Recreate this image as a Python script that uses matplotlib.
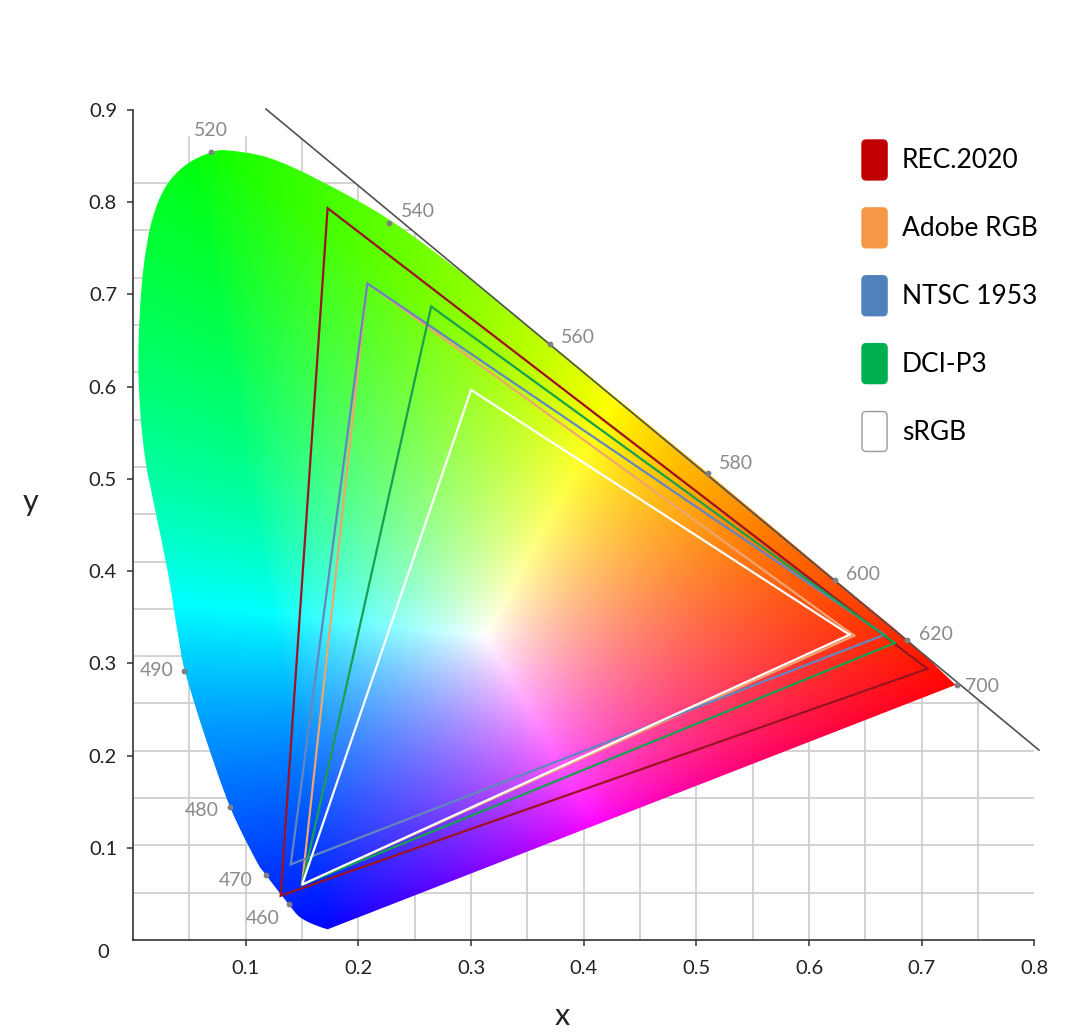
import numpy as np
import matplotlib as mpl
mpl.use('Agg')
import matplotlib.pyplot as plt
from matplotlib.path import Path
from matplotlib.patches import PathPatch, Patch, FancyBboxPatch
from matplotlib.legend_handler import HandlerPatch

plt.rcParams['font.family'] = ['Lato', 'DejaVu Sans']

# spectral locus as drawn in the picture (bottom tip -> blue -> green -> red)
locus_x = [0.1727, 0.160, 0.1476, 0.138, 0.118, 0.109, 0.086, 0.063, 0.046,
           0.040, 0.031, 0.019, 0.011, 0.0065, 0.0047, 0.006, 0.0098, 0.017,
           0.029, 0.047, 0.069, 0.0853, 0.121, 0.165, 0.2276, 0.300, 0.370,
           0.5105, 0.623, 0.687, 0.730]
locus_y = [0.0116, 0.017, 0.0253, 0.039, 0.0705, 0.0868, 0.1446, 0.224, 0.292,
           0.330, 0.398, 0.470, 0.520, 0.571, 0.625, 0.680, 0.734, 0.781,
           0.817, 0.8406, 0.854, 0.856, 0.848, 0.824, 0.781, 0.716, 0.647,
           0.506, 0.391, 0.326, 0.2766]

# wavelength markers
wl_labels = ['460', '470', '480', '490', '520', '540', '560', '580', '600', '620', '700']
wl_x = [0.138, 0.118, 0.086, 0.0453, 0.069, 0.2276, 0.370, 0.5105, 0.623, 0.687, 0.731]
wl_y = [0.039, 0.0705, 0.1446, 0.2918, 0.854, 0.7777, 0.646, 0.506, 0.390, 0.325, 0.2766]

# gamut triangles (R, G, B)
gamut_names = ['REC.2020', 'Adobe RGB', 'NTSC 1953', 'DCI-P3', 'sRGB']
gamut_x = [[0.705, 0.1727, 0.131],
           [0.640, 0.208, 0.150],
           [0.667, 0.208, 0.140],
           [0.676, 0.2646, 0.150],
           [0.636, 0.300, 0.150]]
gamut_y = [[0.294, 0.7936, 0.048],
           [0.330, 0.712, 0.060],
           [0.331, 0.712, 0.082],
           [0.322, 0.687, 0.060],
           [0.331, 0.5965, 0.060]]
line_colors = ['#9c1222', '#eea66e', '#6486bf', '#17a050', '#ffffff']
swatch_colors = ['#c00000', '#f79646', '#4f81bd', '#00b050', '#ffffff']

# tangent line drawn along the red/green edge
diag_x = [0.118, 0.804]
diag_y = [0.901, 0.206]

fig = plt.figure(figsize=(10.86, 10.34), dpi=100)
ax = fig.add_axes([0.1225, 0.0909, 0.830, 0.8027])
ax.set_xlim(0, 0.8)
ax.set_ylim(0, 0.9)

# grid, clipped under the tangent line
slope = (diag_y[1] - diag_y[0]) / (diag_x[1] - diag_x[0])
def diag_at_x(x):
    return diag_y[0] + (x - diag_x[0]) * slope
def diag_at_y(y):
    return diag_x[0] + (y - diag_y[0]) / slope

gx = np.arange(1, 16) * 0.05
gy = np.arange(1, 17) * 0.0513
ax.vlines(gx, 0, np.minimum(0.872, diag_at_x(gx)), color='#d0d0d0', lw=1.3, zorder=0)
ax.hlines(gy, 0, np.minimum(0.8, diag_at_y(gy)), color='#d0d0d0', lw=1.3, zorder=0)

# smooth outline of the horseshoe
pts = np.column_stack([locus_x, locus_y])
verts = [pts[0]]
codes = [Path.MOVETO]
n = len(pts)
for i in range(n - 1):
    p0 = pts[max(i - 1, 0)]
    p1 = pts[i]
    p2 = pts[i + 1]
    p3 = pts[min(i + 2, n - 1)]
    verts += [p1 + (p2 - p0) / 6, p2 - (p3 - p1) / 6, p2]
    codes += [Path.CURVE4] * 3
verts.append(pts[0])
codes.append(Path.LINETO)
verts.append(pts[0])
codes.append(Path.CLOSEPOLY)
outline = PathPatch(Path(verts, codes), facecolor='none', edgecolor='none')
ax.add_patch(outline)

# chromaticity colours: a wide rgb space with primaries at the locus corners
prim = np.array([[0.73, 0.275], [0.05, 0.875], [0.172, 0.01]])
white = np.array([0.3127, 0.329])
def to_xyz(x, y):
    return np.stack([x / y, np.ones_like(x), (1 - x - y) / y], axis=-1)
P = to_xyz(prim[:, 0], prim[:, 1]).T
S = np.linalg.solve(P, to_xyz(white[0], white[1]))
Minv = np.linalg.inv(P * S)

xs = np.linspace(0, 0.8, 800)
ys = np.linspace(0.002, 0.9, 900)
X, Y = np.meshgrid(xs, ys)
rgb = to_xyz(X, Y) @ Minv.T
rgb = np.clip(rgb, 0, None)
rgb = rgb / np.maximum(rgb.max(axis=-1, keepdims=True), 1e-9)
rgb = np.clip(rgb ** 0.8, 0, 1)
im = ax.imshow(rgb, extent=(0, 0.8, 0.002, 0.9), origin='lower',
               aspect='auto', interpolation='bilinear', zorder=1)
im.set_clip_path(outline)

ax.plot(diag_x, diag_y, color='#505050', lw=1.2, zorder=2, clip_on=False)

for gxs, gys, c in zip(gamut_x, gamut_y, line_colors):
    ax.plot(gxs + gxs[:1], gys + gys[:1], color=c, lw=1.6, zorder=3,
            solid_joinstyle='miter')

# wavelength dots and labels
ax.scatter(wl_x, wl_y, s=10, color='#808080', zorder=4, clip_on=False)
offsets = {'460': (-9, -14, 'right'), '470': (-13, -6, 'right'),
           '480': (-11, -4, 'right'), '490': (-10, 0, 'right'),
           '520': (0, 22, 'center'), '540': (11, 11, 'left'),
           '560': (11, 7, 'left'), '580': (11, 10, 'left'),
           '600': (11, 6, 'left'), '620': (12, 6, 'left'),
           '700': (8, -2, 'left')}
for lab, x, y in zip(wl_labels, wl_x, wl_y):
    dx, dy, ha = offsets[lab]
    ax.annotate(lab, (x, y), xytext=(dx * 0.72, dy * 0.72),
                textcoords='offset points', ha=ha, va='center',
                fontsize=14, color='#8a8a8a', zorder=5)

# axes styling
for s in ['top', 'right']:
    ax.spines[s].set_visible(False)
for s in ['left', 'bottom']:
    ax.spines[s].set_color('#333333')
    ax.spines[s].set_linewidth(1.2)
ax.set_xticks(np.arange(1, 9) / 10)
ax.set_xticklabels(['0.1', '0.2', '0.3', '0.4', '0.5', '0.6', '0.7', '0.8'])
ax.set_yticks(np.arange(1, 10) / 10)
ax.set_yticklabels(['0.1', '0.2', '0.3', '0.4', '0.5', '0.6', '0.7', '0.8', '0.9'])
ax.tick_params(axis='both', colors='#333333', labelcolor='#222222',
               labelsize=14.5, length=4.5, width=1.1)
ax.tick_params(axis='y', pad=7)
ax.tick_params(axis='x', pad=10)
ax.annotate('0', (0, 0), xytext=(-30 * 0.72, -12 * 0.72), textcoords='offset points',
            ha='center', va='center', fontsize=14.5, color='#222222', annotation_clip=False)

ax.set_xlabel('x', fontsize=22, color='#222222', va='center', ha='center')
ax.set_ylabel('y', fontsize=22, color='#222222', rotation=0, va='center', ha='center')
ax.xaxis.set_label_coords((563 - 133) / 903, -(1016 - 940) / 830)
ax.yaxis.set_label_coords((30 - 133) / 903, (940 - 502) / 830)

# legend with rounded swatches
def rounded(legend, orig_handle, xdescent, ydescent, width, height, fontsize):
    return FancyBboxPatch((-xdescent, -ydescent), width, height,
                          boxstyle='round,pad=0,rounding_size=3')

handles = [Patch(facecolor=c, edgecolor=('#9a9a9a' if c == '#ffffff' else c), lw=1)
           for c in swatch_colors]
fig.legend(handles, gamut_names, loc='upper left',
           bbox_to_anchor=(862 / 1086, 1 - 140 / 1034), frameon=False,
           fontsize=19, handlelength=0.95, handleheight=1.95, handletextpad=0.57,
           labelspacing=1.06, borderpad=0, borderaxespad=0,
           handler_map={Patch: HandlerPatch(patch_func=rounded)})

fig.savefig('out.png', dpi=100)
